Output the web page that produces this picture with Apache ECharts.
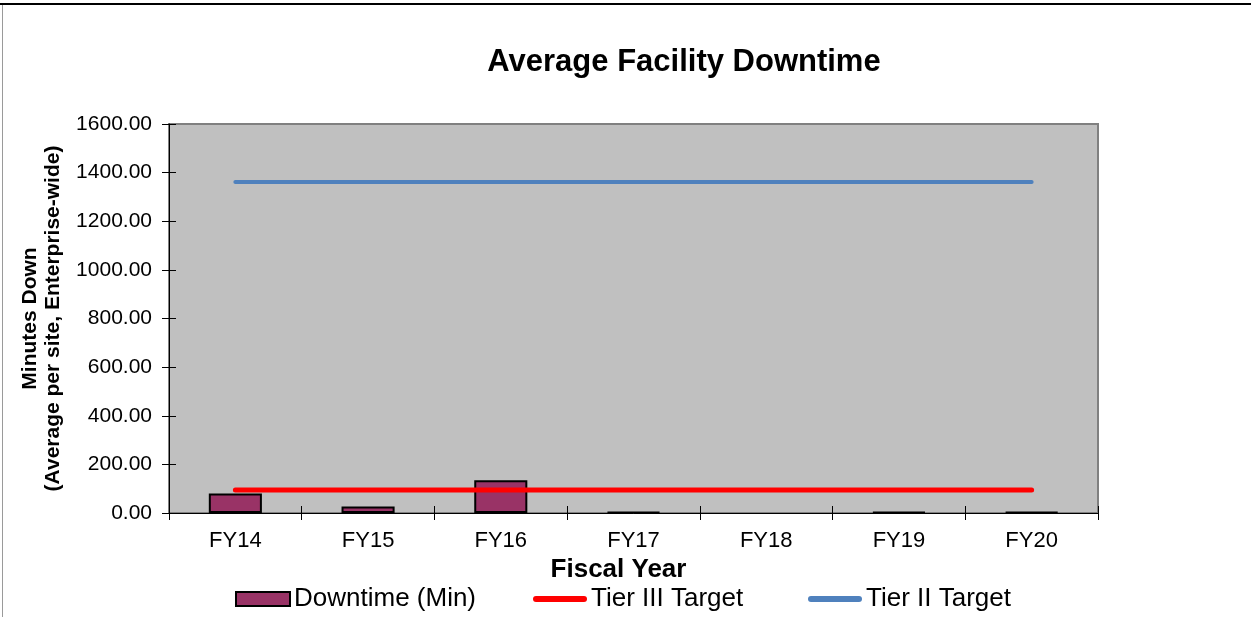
<!DOCTYPE html>
<html>
<head>
<meta charset="utf-8">
<script src="https://cdn.jsdelivr.net/npm/echarts@6/dist/echarts.min.js"></script>
<style>
  html, body { margin: 0; padding: 0; background: #ffffff; }
  #chart { width: 1251px; height: 617px; }
</style>
</head>
<body>
<div id="chart"></div>
<script>
// Fiscal years on the category axis
const categories = ['FY14', 'FY15', 'FY16', 'FY17', 'FY18', 'FY19', 'FY20'];
// Average minutes down per site, enterprise-wide (FY18 has no recorded downtime)
const downtime = [80, 27, 135, 4, null, 4, 4];
// Target levels
const tier3Target = [95, 95, 95, 95, 95, 95, 95];
const tier2Target = [1361, 1361, 1361, 1361, 1361, 1361, 1361];
// Value axis range
const yMin = 0;
const yMax = 1600;
const yStep = 200;

const font = 'Liberation Sans, Arial, sans-serif';
const chart = echarts.init(document.getElementById('chart'), null, { renderer: 'canvas' });

// Capsule-shaped key for the target lines
const lineKey = 'path://M3,0 L51,0 A3,3 0 0 1 51,6 L3,6 A3,3 0 0 1 3,0 Z';

const legendBase = {
  top: 586,
  itemWidth: 54,
  itemHeight: 14,
  itemGap: 0,
  textStyle: { fontFamily: font, fontSize: 26, color: '#000', padding: [0, 0, 0, -1] },
  padding: 0
};

// Tick marks cross the axis lines: outer ticks on the main axes, inner ticks on twin axes
const hiddenAxisParts = {
  axisLine: { show: false },
  axisLabel: { show: false },
  splitLine: { show: false }
};

chart.setOption({
  animation: false,
  backgroundColor: '#ffffff',
  title: {
    text: 'Average Facility Downtime',
    left: 679,
    top: 42,
    textAlign: 'center',
    textStyle: { fontFamily: font, fontSize: 31, fontWeight: 'bold', color: '#000' }
  },
  grid: {
    left: 169, right: 153, top: 124, bottom: 104,
    show: true,
    backgroundColor: '#c0c0c0',
    borderColor: '#808080',
    borderWidth: 2
  },
  legend: [
    Object.assign({}, legendBase, { left: 235, data: [{ name: 'Downtime (Min)', icon: 'rect' }] }),
    Object.assign({}, legendBase, { left: 533, itemHeight: 6, data: [{ name: 'Tier III Target', icon: lineKey }] }),
    Object.assign({}, legendBase, { left: 808, itemHeight: 6, data: [{ name: 'Tier II Target', icon: lineKey }] })
  ],
  xAxis: [
    {
      type: 'category',
      data: categories,
      boundaryGap: true,
      name: 'Fiscal Year',
      nameLocation: 'middle',
      nameGap: 39,
      nameTextStyle: { fontFamily: font, fontSize: 26, fontWeight: 'bold', color: '#000', padding: [0, 30, 0, 0] },
      axisLine: { lineStyle: { color: '#000', width: 1 } },
      axisTick: { show: true, length: 7, lineStyle: { color: '#000' } },
      axisLabel: { fontFamily: font, fontSize: 22, color: '#000', margin: 17 },
      splitLine: { show: false }
    },
    Object.assign({
      type: 'category',
      data: categories,
      boundaryGap: true,
      position: 'bottom',
      axisTick: { show: true, inside: true, length: 7, lineStyle: { color: '#000' } }
    }, hiddenAxisParts)
  ],
  yAxis: [
    {
      type: 'value',
      min: yMin,
      max: yMax,
      interval: yStep,
      name: 'Minutes Down\n(Average per site, Enterprise-wide)',
      nameLocation: 'middle',
      nameRotate: 90,
      nameGap: 98,
      nameTextStyle: { fontFamily: font, fontSize: 21, fontWeight: 'bold', color: '#000', lineHeight: 23 },
      axisLine: { show: true, lineStyle: { color: '#000', width: 1 } },
      axisTick: { show: true, length: 7, lineStyle: { color: '#000' } },
      axisLabel: {
        fontFamily: font, fontSize: 21, color: '#000', margin: 17,
        formatter: v => v.toFixed(2)
      },
      splitLine: { show: false }
    },
    Object.assign({
      type: 'value',
      min: yMin,
      max: yMax,
      interval: yStep,
      position: 'left',
      axisTick: { show: true, inside: true, length: 7, lineStyle: { color: '#000' } }
    }, hiddenAxisParts)
  ],
  series: [
    {
      name: 'Downtime (Min)',
      type: 'bar',
      data: downtime,
      barWidth: '40%',
      itemStyle: { color: '#993366', borderColor: '#000', borderWidth: 2 }
    },
    {
      name: 'Tier III Target',
      type: 'line',
      data: tier3Target,
      symbol: 'none',
      itemStyle: { color: '#ff0000' },
      lineStyle: { color: '#ff0000', width: 5, cap: 'round' }
    },
    {
      name: 'Tier II Target',
      type: 'line',
      data: tier2Target,
      symbol: 'none',
      itemStyle: { color: '#4f81bd' },
      lineStyle: { color: '#4f81bd', width: 4, cap: 'round' }
    }
  ],
  graphic: [
    { type: 'rect', shape: { x: 0, y: 3, width: 1251, height: 2 }, style: { fill: '#000' }, silent: true },
    { type: 'rect', shape: { x: 2, y: 5, width: 1, height: 612 }, style: { fill: '#9a9a9a' }, silent: true }
  ]
});
</script>
</body>
</html>
